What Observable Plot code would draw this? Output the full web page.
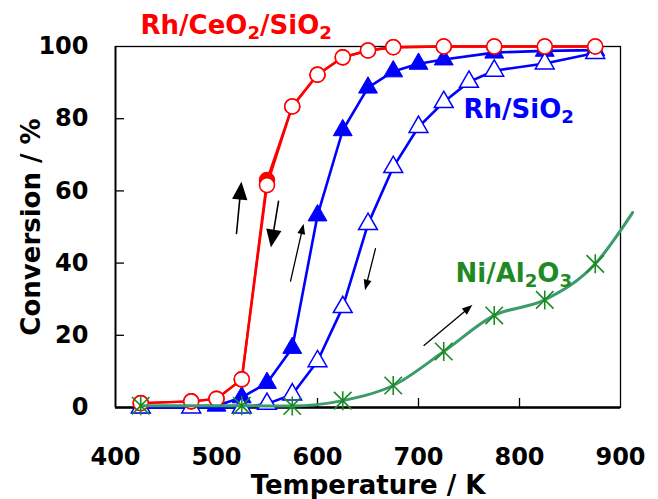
<!DOCTYPE html>
<html>
<head>
<meta charset="utf-8">
<script src="https://cdn.jsdelivr.net/npm/d3@7"></script>
<script src="https://cdn.jsdelivr.net/npm/@observablehq/plot@0.6"></script>
<style>
  html, body { margin: 0; padding: 0; background: #ffffff; }
  #chart svg { display: block; }
</style>
</head>
<body>
<div id="chart"></div>
<script>
// ---------- data ----------
const xTicks = [400, 500, 600, 700, 800, 900];
const yTicks = [0, 20, 40, 60, 80, 100];

// Rh/CeO2/SiO2 (heating = filled, cooling = open circles)
const redTemps   = [425, 475, 500, 525, 550, 575, 600, 625, 650, 675, 725, 775, 825, 875];
const redHeating = [1.2, 1.7, 2.4, 7.8, 63.0, 83.4, 92.2, 97.0, 98.9, 99.8, 100, 100, 100, 100];
const redCooling = [1.2, 1.7, 2.4, 7.8, 61.6, 83.4, 92.2, 97.0, 98.9, 99.8, 100, 100, 100, 100];

// Rh/SiO2 (heating = filled, cooling = open triangles)
const blueHeatTemps = [425, 500, 525, 550, 575, 600, 625, 650, 675, 700, 725, 775, 825, 875];
const blueHeating   = [0, 0.5, 2.8, 6.8, 16.5, 53.2, 76.8, 88.6, 93.1, 95.2, 96.4, 98.3, 98.8, 99.0];
const blueCoolTemps = [425, 475, 525, 550, 575, 600, 625, 650, 675, 700, 725, 750, 775, 825, 875];
const blueCooling   = [0, 0, 0, 1.0, 3.6, 12.8, 27.8, 50.8, 66.6, 77.7, 84.6, 90.2, 93.3, 95.3, 98.2];

// Ni/Al2O3 (last value: where the visible line ends, beyond the frame)
const greenTemps   = [425, 525, 575, 625, 675, 725, 775, 825, 875, 912];
const greenHeating = [0.5, 0.5, 0.4, 1.9, 6.1, 15.5, 25.5, 29.8, 39.8, 54.0];

// annotations (data units)
const seriesLabels = [
  {text: "Rh/CeO₂/SiO₂", T: 424.8, v: 103.6, key: "red"},
  {text: "Rh/SiO₂",      T: 744.6, v: 80.3,  key: "blue"},
  {text: "Ni/Al₂O₃",     T: 736.6, v: 34.9,  key: "green"}
];
const arrowAnnots = [
  {x1: 519.8, y1: 48.2, x2: 524.5, y2: 62.0, big: true},
  {x1: 561.4, y1: 57.1, x2: 554.2, y2: 44.9, big: true},
  {x1: 573.3, y1: 35.0, x2: 585.8, y2: 50.4, big: false},
  {x1: 657.4, y1: 44.0, x2: 647.5, y2: 33.0, big: false},
  {x1: 705.4, y1: 17.2, x2: 752.0, y2: 28.1, big: false}
];
const xLabel = "Temperature / K";
const yLabel = "Conversion / %";

// ---------- styles ----------
const COLORS = {red: "#ff0000", blue: "#0000ff", green: "#1f8a24"};
const GREEN_LINE = "#3b9b6d";
const GREEN_MARK = "#1a8a22";
const FONT = "DejaVu Sans";
const W = 658, H = 499, mL = 115, mR = 38, mT = 46, mB = 92;
const plotW = W - mL - mR, plotH = H - mT - mB;

const rows = (T, V) => T.map((t, i) => ({T: t, v: V[i]}));
const redHeat = rows(redTemps, redHeating);
const redCool = rows(redTemps, redCooling);
const blueHeat = rows(blueHeatTemps, blueHeating);
const blueCool = rows(blueCoolTemps, blueCooling);
const green = rows(greenTemps, greenHeating);

// asterisk marker (vertical bar + X)
const asterisk = {
  draw(ctx, size) {
    const h = Math.sqrt(size / Math.PI);
    const k = h * 0.92;
    ctx.moveTo(0, -h); ctx.lineTo(0, h);
    ctx.moveTo(-k, -k); ctx.lineTo(k, k);
    ctx.moveTo(-k, k); ctx.lineTo(k, -k);
  }
};

// scales for arrow geometry
const xs = Plot.scale({x: {domain: [400, 900], range: [mL, W - mR]}});
const ys = Plot.scale({y: {domain: [0, 100], range: [H - mB, mT]}});

function arrowShape(hl, hw) {
  return {
    draw(ctx, l) {
      ctx.moveTo(0, 0);
      ctx.lineTo(0, -(l - hl * 0.8));
      ctx.moveTo(0, -l);
      ctx.lineTo(-hw / 2, -l + hl);
      ctx.lineTo(hw / 2, -l + hl);
      ctx.closePath();
    }
  };
}

const arrowMarks = arrowAnnots.map(a => {
  const dx = xs.apply(a.x2) - xs.apply(a.x1);
  const dy = ys.apply(a.y2) - ys.apply(a.y1);
  const len = Math.hypot(dx, dy);
  const ang = Math.atan2(dx, -dy) * 180 / Math.PI;
  return Plot.vector([a], {
    x: "x1", y: "y1", length: len, rotate: ang, anchor: "start",
    shape: a.big ? arrowShape(15, 13) : arrowShape(8, 6),
    stroke: "black", fill: "black",
    strokeWidth: a.big ? 1.6 : 1.3, strokeLinejoin: "miter"
  });
});

const chart = Plot.plot({
  width: W, height: H,
  marginLeft: mL, marginRight: mR, marginTop: mT, marginBottom: mB,
  style: {fontFamily: FONT, fontWeight: "bold", fontSize: "24px", background: "#ffffff", color: "black"},
  x: {domain: [400, 900], ticks: xTicks, tickSize: 0, tickPadding: 40, label: null, tickFormat: d => String(d)},
  y: {domain: [0, 100], ticks: yTicks, tickSize: 0, tickPadding: 27, label: null, tickFormat: d => String(d)},
  marks: [
    Plot.ruleX(xTicks.slice(1, -1), {insetTop: plotH - 9, stroke: "black", strokeWidth: 1.3}),
    Plot.ruleY(yTicks.slice(1, -1), {insetRight: plotW - 9, stroke: "black", strokeWidth: 1.3}),
    Plot.frame({stroke: "black", strokeWidth: 1.3}),
    Plot.ruleY([0], {stroke: "black", strokeWidth: 2.6}),
    Plot.ruleX([400], {stroke: "black", strokeWidth: 1.8}),

    Plot.line(blueHeat, {x: "T", y: "v", stroke: COLORS.blue, strokeWidth: 2.6}),
    Plot.dot(blueHeat, {x: "T", y: "v", symbol: "triangle", r: 7, fill: COLORS.blue, stroke: COLORS.blue, strokeWidth: 1}),
    Plot.line(blueCool, {x: "T", y: "v", stroke: COLORS.blue, strokeWidth: 2.6}),
    Plot.dot(blueCool, {x: "T", y: "v", symbol: "triangle", r: 7, fill: "white", stroke: COLORS.blue, strokeWidth: 1.5}),

    Plot.line(redHeat, {x: "T", y: "v", stroke: COLORS.red, strokeWidth: 2.4}),
    Plot.dot(redHeat, {x: "T", y: "v", r: 7.5, fill: COLORS.red, stroke: COLORS.red, strokeWidth: 1.5}),
    Plot.line(redCool, {x: "T", y: "v", stroke: COLORS.red, strokeWidth: 2.4}),
    Plot.dot(redCool, {x: "T", y: "v", r: 7.5, fill: "white", stroke: COLORS.red, strokeWidth: 1.6}),

    Plot.line(green, {x: "T", y: "v", curve: "monotone-x", stroke: GREEN_LINE, strokeWidth: 3}),
    Plot.dot(green.filter(d => d.T <= 900), {x: "T", y: "v", symbol: asterisk, r: 9.5, fill: "none", stroke: GREEN_MARK, strokeWidth: 1.6}),

    ...arrowMarks,

    Plot.text(seriesLabels, {
      x: "T", y: "v", text: "text", fill: d => COLORS[d.key],
      textAnchor: "start", lineAnchor: "bottom",
      fontSize: 26, fontWeight: "bold", fontFamily: FONT
    }),
    Plot.text([xLabel], {
      text: d => d, frameAnchor: "bottom", dy: 86, lineAnchor: "bottom", textAnchor: "middle",
      fontSize: 26, fontWeight: "bold", fontFamily: FONT, fill: "black"
    }),
    Plot.text([yLabel], {
      text: d => d, frameAnchor: "left", rotate: -90, dx: -76, lineAnchor: "bottom", textAnchor: "middle",
      fontSize: 26, fontWeight: "bold", fontFamily: FONT, fill: "black"
    })
  ]
});

// render subscript digits as lowered, smaller tspans (text stays real text)
const subMap = {"₂": "2", "₃": "3"};
chart.querySelectorAll("text").forEach(t => {
  const s = t.textContent;
  if (!/[₂₃]/.test(s)) return;
  while (t.firstChild) t.removeChild(t.firstChild);
  const ns = "http://www.w3.org/2000/svg";
  let buf = "";
  const flush = () => {
    if (!buf) return;
    const sp = document.createElementNS(ns, "tspan");
    sp.textContent = buf;
    t.appendChild(sp);
    buf = "";
  };
  for (const ch of s) {
    if (subMap[ch]) {
      flush();
      const sp = document.createElementNS(ns, "tspan");
      sp.setAttribute("font-size", "70%");
      sp.setAttribute("baseline-shift", "-25%");
      sp.textContent = subMap[ch];
      t.appendChild(sp);
    } else buf += ch;
  }
  flush();
});

document.getElementById("chart").appendChild(chart);
</script>
</body>
</html>
